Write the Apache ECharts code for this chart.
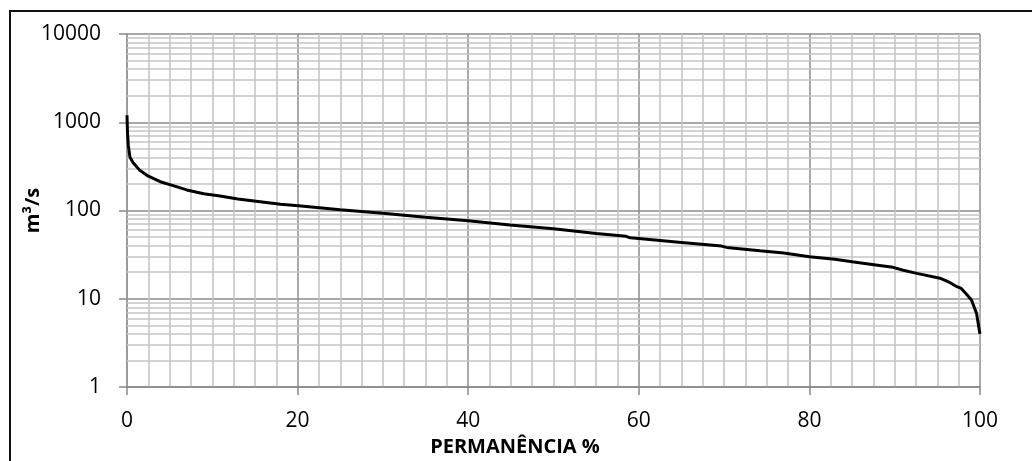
<!DOCTYPE html>
<html>
<head>
<meta charset="utf-8">
<script src="https://cdn.jsdelivr.net/npm/echarts@6/dist/echarts.min.js"></script>
<style>
  html, body { margin: 0; padding: 0; background: #fff; overflow: hidden; }
  #frame { position: absolute; left: 9px; top: 10px; width: 1200px; height: 600px;
           border-left: 2px solid #111; border-top: 2px solid #111; }
  #chart { position: absolute; left: 0; top: 0; width: 1032px; height: 461px; }
</style>
</head>
<body>
<div id="frame"></div>
<div id="chart"></div>
<script>
// Curva de permanência de vazões
const permanencia = [0, 0.05, 0.15, 0.35, 0.7, 1.5, 2.5, 3.9, 5.5, 7, 9, 10.9, 13, 15.6, 18, 20.1,
  25, 30, 35, 40, 44.9, 50, 55, 58.5, 59, 60, 65, 69.7, 70.3, 74.2, 77, 80, 83, 85, 88, 89.8,
  91, 92.6, 95.3, 96.5, 97.3, 97.8, 98.5, 99.0, 99.6, 99.9, 100];
const vazao = [1200, 800, 550, 400, 350, 285, 245, 212, 190, 171, 155, 146, 135, 126, 118, 113,
  102, 93, 84, 76.7, 68.5, 62, 55, 51, 49, 48.2, 43.5, 39.5, 38.2, 35, 33, 30, 28, 26.3, 24, 22.7,
  21, 19.4, 17.1, 15.2, 13.7, 13.1, 11, 9.7, 6.8, 4.5, 4.0];
const xTicks = [0, 20, 40, 60, 80, 100];
const yDecades = [1, 10, 100, 1000, 10000];
const xTitle = 'PERMANÊNCIA %';
const yTitle = 'm³/s';

// secondary horizontal grid lines (2..9 in each decade)
const minorLevels = [];
for (let d = 0; d < yDecades.length - 1; d++) {
  for (let k = 2; k <= 9; k++) minorLevels.push(yDecades[d] * k);
}

const font = 'Open Sans';
const chart = echarts.init(document.getElementById('chart'), null, { renderer: 'canvas' });
chart.setOption({
  animation: false,
  backgroundColor: 'transparent',
  grid: { left: 127, right: 52, top: 34, bottom: 74, containLabel: false, outerBoundsMode: 'none' },
  graphic: [{
    type: 'text',
    x: 515,
    y: 447,
    style: {
      text: xTitle,
      fontFamily: font, fontWeight: 'bold', fontSize: 20, fill: '#000',
      textAlign: 'center', textVerticalAlign: 'middle'
    }
  }],
  xAxis: {
    type: 'value',
    min: xTicks[0], max: xTicks[xTicks.length - 1], interval: 20,
    axisLine: { show: true, onZero: false, lineStyle: { color: '#888', width: 1.5 } },
    axisTick: { show: true, length: 8, lineStyle: { color: '#888', width: 1.5 } },
    axisLabel: { fontFamily: font, fontSize: 21, color: '#000', margin: 24 },
    splitLine: { show: true, lineStyle: { color: '#8c8c8c', width: 1.5 } },
    minorTick: { show: false, splitNumber: 8 },
    minorSplitLine: { show: true, lineStyle: { color: '#c4c4c4', width: 1.5 } }
  },
  yAxis: {
    type: 'log',
    logBase: 10,
    min: yDecades[0], max: yDecades[yDecades.length - 1],
    name: yTitle,
    nameLocation: 'middle',
    nameGap: 84,
    nameMoveOverlap: false,
    nameRotate: 90,
    nameTextStyle: { fontFamily: font, fontWeight: 'bold', fontSize: 20, color: '#000' },
    axisLine: { show: true, lineStyle: { color: '#999', width: 1.5 } },
    axisTick: { show: true, length: 8, lineStyle: { color: '#888', width: 1.5 } },
    axisLabel: { fontFamily: font, fontSize: 21, color: '#000', margin: 26,
                 formatter: v => String(Math.round(v)) },
    splitLine: { show: true, lineStyle: { color: '#8c8c8c', width: 1.5 } }
  },
  series: [{
    type: 'line',
    data: permanencia.map((p, i) => [p, vazao[i]]),
    showSymbol: false,
    smooth: false,
    lineStyle: { color: '#000', width: 3 },
    z: 5,
    markLine: {
      silent: true,
      symbol: 'none',
      label: { show: false },
      z: 1,
      animation: false,
      lineStyle: { color: '#c4c4c4', width: 1.5, type: 'solid' },
      data: minorLevels.map(v => ({ yAxis: v }))
    }
  }]
});
</script>
</body>
</html>
